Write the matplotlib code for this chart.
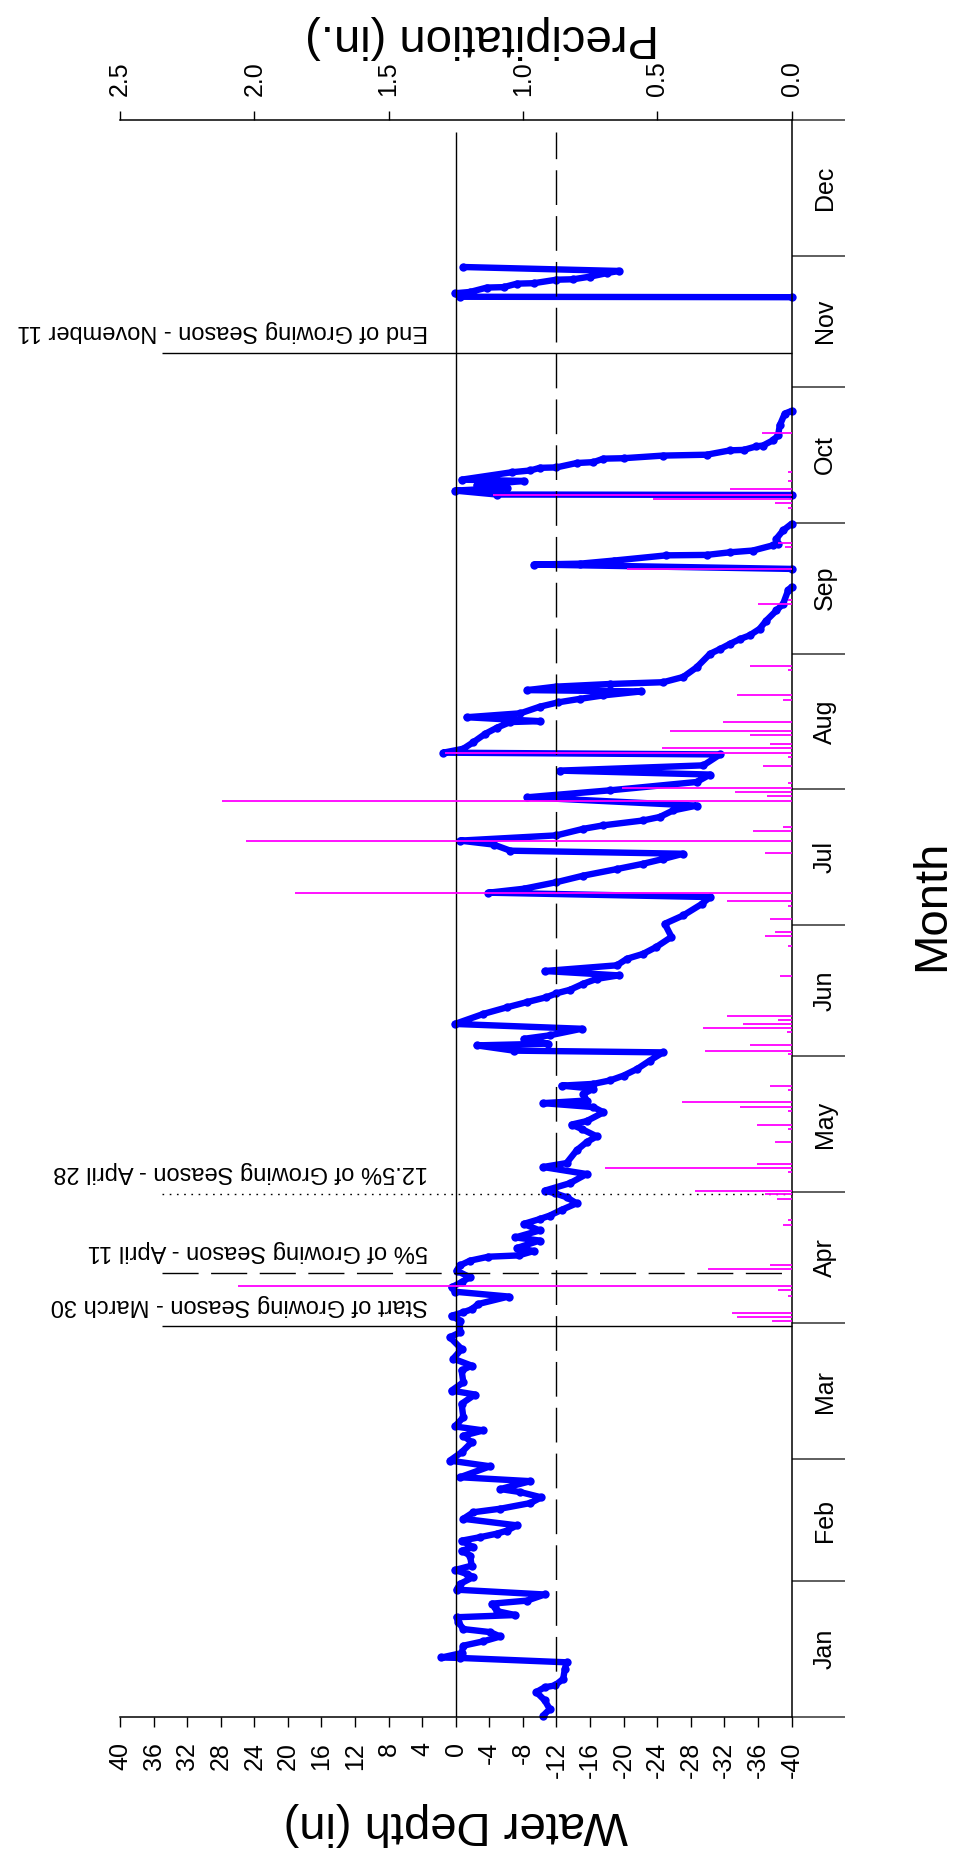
import numpy as np
import matplotlib.pyplot as plt
from matplotlib.ticker import NullFormatter

plt.rcParams['font.family'] = ['Liberation Sans', 'DejaVu Sans']
plt.rcParams['axes.unicode_minus'] = False

# water depth record: day of year and depth (in), nan = no reading
depth_day = np.array([
    0.3, 1.8, 3.8, 5.7, 6.8, 7.2, 8.7, 11.0, 12.5, 13.5, 13.6, 14.6, 16.3, 17.3,
    18.4, 19.4, 20.1, 21.7, 22.8, 23.3, 24.2, 25.2, 25.9, 26.6, 28.0, 29.1, 30.4,
    32.0, 32.7, 33.6, 34.6, 36.9, 38.0, 38.8, 40.3, 41.1, 41.9, 42.6, 43.8, 45.3,
    46.8, 47.6, 48.9, 50.2, 51.4, 52.1, 53.9, 54.8, 57.3, 58.6, 60.5, 62.8, 64.3,
    65.5, 66.4, 68.5, 71.6, 73.7, 74.6, 76.5, 79.2, 80.3, 81.9, 84.1, 86.8, 87.9,
    90.6, 91.7, 92.5, 93.2, 94.4, 96.1, 97.2, 98.2, 99.4, 100.5, 102.0, 103.2,
    104.3, 105.2, 105.5, 106.5, 107.2, 108.9, 109.6, 111.2, 112.7, 113.8, 114.6,
    115.9, 117.4, 118.8, 119.7, 120.3, 122.0, 124.1, 125.7, 126.6, 129.5, 131.4,
    132.7, 134.4, 135.4, 136.2, 138.2, 139.4, 140.3, 140.9, 142.4, 143.6, 144.3,
    144.7, 145.5, 146.6, 148.1, 150.0, 151.9, 152.3, 153.5, 153.9, 155.0, 155.8,
    157.3, 158.4, 160.7, 162.2, 163.4, 164.5, 165.4, 166.2, 167.6, 168.7, 169.5,
    170.5, 171.8, 173.3, 174.4, 176.0, 178.3, 181.3, 183.2, 185.8, 187.4, 188.4,
    189.3, 190.8, 192.3, 193.8, 195.0, 196.1, 197.3, 198.0, 199.4, 200.3, 201.5,
    203.0, 203.8, 204.9, 205.7, 207.2, 208.3, 210.2, 211.8, 213.7, 215.4, 216.3,
    217.5, 220.0, 220.4, 221.3, 222.8, 224.7, 226.1, 227.4, 227.6, 228.5, 229.4,
    230.9, 231.9, 232.7, 233.5, 234.4, 234.7, 235.5, 236.1, 236.5, 237.7, 239.9,
    243.0, 244.1, 245.3, 246.4, 247.2, 248.7, 250.6, 252.9, 254.4, 257.5, 258.3,
    np.nan,
    262.4, 263.4, 263.6, 264.3, 265.5, 265.6, 266.2, 266.6, 267.8, 268.1, 269.3,
    271.2, 272.7,
    np.nan,
    279.3, 279.4, 280.3, 280.9, 281.5, 282.5, 282.8, 284.5, 284.9, 285.5, 285.6,
    286.6, 286.8, 287.6, 287.7, 288.3, 288.5, 289.5, 289.6, 290.4, 290.6, 291.8,
    292.9, 295.2, 297.9, 298.5,
    np.nan,
    324.5, 324.6, 325.4, 325.7, 326.7, 326.8, 327.6, 327.7, 328.5, 328.6, 329.2,
    330.0, 330.5, 331.4,
])
depth_in = np.array([
    -10.4, -11.2, -10.6, -9.6, -10.6, -11.8, -12.8, -13.0, -13.2, -0.5, 1.7, -0.7,
    -0.9, -3.3, -5.3, -4.1, -0.9, -0.3, -0.1, -7.1, -4.9, -4.7, -4.3, -8.5, -10.6,
    -0.1, -0.5, -2.1, -1.3, 0.1, -1.9, -1.7, -0.7, -2.1, -0.7, -2.9, -4.9, -6.1,
    -7.3, -0.9, -2.1, -5.3, -8.9, -10.2, -7.7, -5.3, -8.9, -0.5, -4.1, 0.7, -0.7,
    -1.9, -0.9, -3.3, 0.1, -0.9, -0.7, -2.3, 0.5, -0.9, -0.7, -1.9, 0.3, -0.7, 0.7,
    -0.5,
    -0.5, 0.5, -0.9, -1.9, -2.7, -6.3, 0.1, 0.5, -0.7, -1.7, -0.1, -0.5, -1.7,
    -3.9, -7.5, -9.3, -7.3, -10.0, -7.1, -10.0, -8.1, -10.0, -11.2, -12.6, -14.4,
    -13.2, -11.8, -10.6, -13.6, -15.6, -10.4, -13.2, -14.4, -15.6, -16.8, -15.0,
    -13.8, -15.6, -17.6, -16.4, -10.4, -15.6, -15.2, -16.4, -12.6, -16.4, -18.4,
    -20.0, -21.6, -23.1, -24.7, -6.9, -2.5, -11.0, -8.1, -11.2, -15.0, 0.1, -3.3,
    -6.1, -8.5, -10.8, -12.0, -13.6, -15.2, -16.8, -19.4, -10.6, -19.2, -20.4,
    -22.3, -23.9, -25.7, -24.9, -27.1, -29.3, -30.3, -3.9, -8.1, -12.0, -15.2,
    -19.2, -22.3, -24.7, -27.1, -6.5, -4.5, -0.5, -12.0, -15.2, -17.6, -22.3,
    -24.3, -25.9, -28.7, -8.5, -18.4, -28.7, -30.3, -12.4, -29.5, -31.5, 1.5,
    -0.9, -2.1, -3.5, -4.9, -6.5, -10.0, -1.3, -7.7, -10.0, -12.2, -14.8, -17.6,
    -22.1, -8.5, -12.0, -18.4, -24.7, -27.1, -28.7, -30.3, -31.5, -32.7, -33.9,
    -35.0, -36.2, -37.0, -38.2, -39.0, -39.6, -40.0,
    np.nan,
    -40.0, -9.3, -14.8, -18.8, -25.1, -29.9, -32.7, -35.4, -37.8, -38.4, -38.2,
    -39.0, -40.0,
    np.nan,
    -40.0, -4.9, 0.1, -6.1, -2.5, -8.1, -0.7, -6.7, -8.9, -10.0, -12.0, -14.4,
    -16.4, -17.6, -20.0, -24.7, -29.9, -32.7, -34.3, -35.8, -36.6, -37.8, -38.4,
    -38.6, -39.2, -40.0,
    np.nan,
    -40.0, -0.5, 0.1, -1.7, -3.7, -5.7, -7.3, -9.3, -12.0, -14.0, -16.0, -18.0,
    -19.4, -0.9,
])

# daily precipitation (in)
rain_day = [90.6, 91.5, 92.3, 96.3, 97.5, 98.45, 102.4, 103.4, 112.5, 113.5,
            118.4, 119.6, 120.3, 124.5, 125.5, 126.4, 131.4, 134.4, 135.4, 138.5,
            139.4, 140.5, 143.4, 144.3, 151.6, 152.3, 153.5, 156.5, 157.4, 158.4,
            159.4, 160.3, 169.4, 176.3, 178.4, 179.4, 182.3, 185.3, 186.4, 188.4,
            197.4, 200.3, 202.4, 203.4, 209.3, 210.5, 211.4, 212.4, 213.4, 217.3,
            219.4, 220.4, 221.4, 222.4, 224.5, 225.3, 227.4, 232.5, 233.5, 239.4,
            240.3, 254.4, 255.2, 262.4, 267.4, 268.4, 276.4, 277.4, 278.4, 279.4,
            280.6, 282.5, 284.5, 293.4]
rain_in = [0.074, 0.204, 0.223, 0.012, 0.049, 2.06, 0.310, 0.080, 0.030, 0.012,
           0.055, 0.099, 0.359, 0.012, 0.694, 0.130, 0.061, 0.012, 0.130, 0.012,
           0.192, 0.409, 0.012, 0.080, 0.012, 0.322, 0.155, 0.018, 0.328, 0.179,
           0.049, 0.241, 0.043, 0.012, 0.099, 0.061, 0.080, 0.012, 0.241, 1.85,
           0.099, 2.03, 0.142, 0.030, 2.12, 0.092, 0.210, 0.632, 0.012, 0.105,
           0.012, 1.29, 0.483, 0.080, 0.155, 0.452, 0.254, 0.030, 0.204, 0.012,
           0.155, 0.123, 0.012, 0.614, 0.024, 0.049, 0.012, 0.061, 0.514, 1.11,
           0.229, 0.012, 0.012, 0.111]

month_names = ['Jan', 'Feb', 'Mar', 'Apr', 'May', 'Jun',
               'Jul', 'Aug', 'Sep', 'Oct', 'Nov', 'Dec']
month_edges = [0, 31, 59, 90, 120, 151, 181, 212, 243, 273, 304, 334, 365]
depth_ticks = list(range(40, -41, -4))
rain_ticks = [2.5, 2.0, 1.5, 1.0, 0.5, 0.0]

# growing season markers
season_days = [89.3, 101.5, 119.6, 311.8]
season_text = ['Start of Growing Season - March 30',
               '5% of Growing Season - April 11',
               '12.5% of Growing Season - April 28',
               'End of Growing Season - November 11']
season_ls = ['-', (0, (26, 9)), (0, (1.2, 4)), '-']

W, H = 956, 1860
fig = plt.figure(figsize=(W / 100, H / 100), dpi=100)
ax = fig.add_axes([120 / W, 1 - 1717 / H, 671.5 / W, 1597 / H])
ax2 = ax.twiny()

ax.set_xlim(40, -40)
ax.set_ylim(0, 365)
ax2.set_xlim(2.5, 0)

# water depth trace
ax.plot(depth_in, depth_day, color='#0000ff', lw=4.6, marker='o', ms=6,
        mew=0, solid_joinstyle='round', solid_capstyle='round',
        zorder=2, clip_on=False)

# reference depths
ax.vlines(0, 0, 362.3, color='black', lw=1.0, zorder=3)
ax.vlines(-12, 0, 362.3, color='black', lw=1.0, linestyles=[(0, (25, 8))],
          zorder=3)

for d, txt, ls in zip(season_days, season_text, season_ls):
    ax.hlines(d, 35, -40, color='black', lw=1.0, linestyles=[ls], zorder=3,
              clip_on=False)
    ax.text(3.3, d + 4.9, txt, rotation=180, ha='right', va='center',
            fontsize=17)

# precipitation
ax2.hlines(rain_day, 0, rain_in, color='#ff00ff', lw=1.3)

# depth axis
ax.set_xticks(depth_ticks)
ax.set_xticklabels([str(t) for t in depth_ticks], rotation=90, fontsize=18)
ax.tick_params(axis='x', direction='out', length=7, width=1, pad=11)

# precip axis
ax2.set_xticks(rain_ticks)
ax2.set_xticklabels(['%.1f' % v for v in rain_ticks], rotation=90, fontsize=18)
ax2.tick_params(axis='x', direction='out', length=6.5, width=1, pad=10.8)

# month axis
mid = [(a + b) / 2 for a, b in zip(month_edges[:-1], month_edges[1:])]
ax.yaxis.tick_right()
ax.set_yticks(month_edges)
ax.yaxis.set_major_formatter(NullFormatter())
ax.set_yticks(mid, minor=True)
ax.set_yticklabels(month_names, minor=True, rotation=90, va='center',
                   fontsize=18)
ax.tick_params(axis='y', which='major', direction='out', length=38, width=1.1,
               color='#333333')
ax.tick_params(axis='y', which='minor', length=0, pad=15.5)

for s in ['left', 'top']:
    ax.spines[s].set_visible(False)
for s in ['left', 'right', 'bottom']:
    ax2.spines[s].set_visible(False)
for s in ['right', 'bottom']:
    ax.spines[s].set_linewidth(1.1)
ax2.spines['top'].set_linewidth(1.1)

fig.text(456 / W, 1 - 1824 / H, 'Water Depth (in)', rotation=180,
         ha='center', va='center', fontsize=34)
fig.text(482 / W, 1 - 37 / H, 'Precipitation (in.)', rotation=180,
         ha='center', va='center', fontsize=34)
fig.text(932 / W, 1 - 905 / H, 'Month', rotation=90,
         ha='center', va='center', fontsize=34)

fig.savefig('out.png', dpi=100)
